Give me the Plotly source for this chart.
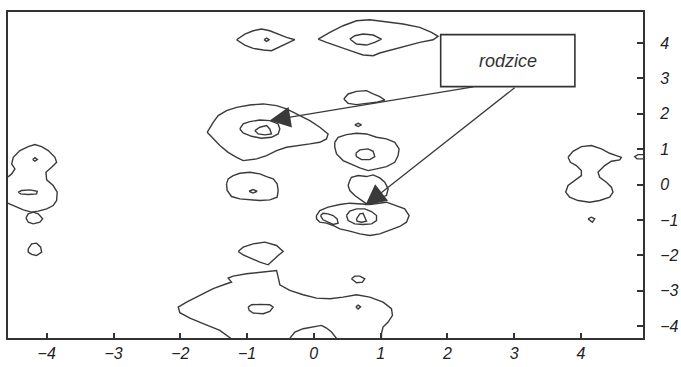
import plotly.graph_objects as go

# ---- axis settings (data units) ----
x_range = [-4.58, 4.93]
y_range = [-4.34, 4.88]
x_ticks = [-4, -3, -2, -1, 0, 1, 2, 3, 4]
y_ticks = [-4, -3, -2, -1, 0, 1, 2, 3, 4]

# ---- contour outlines (x, y) ----
lens_a_x = [-1.157, -1.033, -0.908, -0.783, -0.659, -0.534, -0.409, -0.284, -0.384, -0.509, -0.634, -0.758, -0.908, -1.033, -1.157]
lens_a_y = [4.096, 4.256, 4.350, 4.397, 4.350, 4.256, 4.162, 4.096, 4.002, 3.879, 3.785, 3.804, 3.851, 3.945, 4.096]
dot_a_x = [-0.745, -0.708, -0.670, -0.708, -0.745]
dot_a_y = [4.096, 4.140, 4.096, 4.050, 4.096]

blob_b_x = [0.065, 0.240, 0.439, 0.639, 0.838, 1.088, 1.337, 1.587, 1.762, 1.861, 1.786, 1.587, 1.388, 1.187, 0.988, 0.888, 0.738, 0.588, 0.389, 0.190, 0.065]
blob_b_y = [4.115, 4.303, 4.492, 4.633, 4.661, 4.605, 4.539, 4.444, 4.303, 4.190, 4.096, 4.021, 3.927, 3.833, 3.720, 3.644, 3.663, 3.757, 3.879, 4.021, 4.115]
inner_b_x = [0.539, 0.614, 0.738, 0.888, 1.013, 0.913, 0.789, 0.639, 0.539]
inner_b_y = [4.115, 4.209, 4.256, 4.228, 4.115, 4.021, 3.945, 3.973, 4.115]

blob_c_x = [0.449, 0.514, 0.639, 0.789, 0.888, 0.988, 1.063, 0.939, 0.789, 0.639, 0.514, 0.449]
blob_c_y = [2.421, 2.562, 2.636, 2.655, 2.562, 2.486, 2.392, 2.326, 2.297, 2.260, 2.297, 2.421]

blob_d_x = [-1.597, -1.507, -1.432, -1.307, -1.157, -0.958, -0.759, -0.558, -0.409, -0.210, -0.060, 0.090, 0.214, 0.190, 0.090, -0.060, -0.259, -0.409, -0.558, -0.708, -0.858, -1.058, -1.157, -1.283, -1.407, -1.507, -1.597]
blob_d_y = [1.478, 1.761, 1.949, 2.090, 2.184, 2.251, 2.280, 2.232, 2.138, 1.949, 1.808, 1.620, 1.432, 1.290, 1.196, 1.149, 1.102, 1.055, 0.960, 0.819, 0.725, 0.678, 0.771, 0.912, 1.102, 1.290, 1.478]
ring_d1_x = [-1.108, -1.058, -0.958, -0.808, -0.659, -0.534, -0.509, -0.534, -0.634, -0.783, -0.933, -1.058, -1.108]
ring_d1_y = [1.573, 1.714, 1.780, 1.827, 1.808, 1.714, 1.573, 1.432, 1.337, 1.309, 1.365, 1.460, 1.573]
ring_d2_x = [-0.883, -0.808, -0.708, -0.659, -0.634, -0.734, -0.834, -0.883]
ring_d2_y = [1.525, 1.620, 1.667, 1.573, 1.432, 1.404, 1.432, 1.525]

dot_e_x = [0.614, 0.664, 0.714, 0.664, 0.614]
dot_e_y = [1.686, 1.730, 1.686, 1.640, 1.686]

blob_f_x = [0.314, 0.364, 0.489, 0.639, 0.789, 0.939, 1.088, 1.213, 1.277, 1.262, 1.213, 1.088, 0.939, 0.813, 0.689, 0.564, 0.439, 0.340, 0.314, 0.314]
blob_f_y = [1.196, 1.337, 1.412, 1.450, 1.431, 1.337, 1.290, 1.196, 1.008, 0.819, 0.630, 0.508, 0.443, 0.395, 0.471, 0.584, 0.678, 0.866, 1.055, 1.196]
inner_f_x = [0.629, 0.689, 0.813, 0.888, 0.913, 0.838, 0.714, 0.639, 0.629]
inner_f_y = [0.885, 0.979, 1.008, 0.941, 0.791, 0.706, 0.706, 0.791, 0.885]

blob_g_x = [0.539, 0.564, 0.664, 0.789, 0.888, 0.988, 1.063, 1.113, 1.088, 0.939, 0.789, 0.714, 0.614, 0.539, 0.514, 0.539]
blob_g_y = [0.113, 0.207, 0.254, 0.226, 0.273, 0.188, 0.066, -0.122, -0.311, -0.405, -0.546, -0.452, -0.311, -0.169, -0.028, 0.113]

blob_h_x = [0.040, 0.090, 0.214, 0.389, 0.539, 0.689, 0.838, 1.088, 1.238, 1.362, 1.427, 1.388, 1.287, 1.138, 0.988, 0.838, 0.689, 0.539, 0.389, 0.289, 0.190, 0.090, 0.040, 0.040]
blob_h_y = [-0.876, -0.734, -0.640, -0.565, -0.527, -0.546, -0.565, -0.499, -0.593, -0.687, -0.876, -1.065, -1.186, -1.299, -1.394, -1.441, -1.394, -1.318, -1.252, -1.158, -1.092, -1.065, -0.970, -0.876]
ring_h1_x = [0.100, 0.139, 0.214, 0.289, 0.349, 0.364, 0.289, 0.214, 0.139, 0.100]
ring_h1_y = [-0.876, -0.810, -0.829, -0.876, -0.970, -1.092, -1.130, -1.065, -0.998, -0.876]
ring_h2_x = [0.489, 0.539, 0.639, 0.763, 0.864, 0.939, 0.939, 0.864, 0.738, 0.614, 0.514, 0.489]
ring_h2_y = [-0.876, -0.753, -0.687, -0.687, -0.763, -0.876, -1.017, -1.111, -1.130, -1.111, -1.017, -0.876]
ring_h3_x = [0.639, 0.689, 0.738, 0.763, 0.789, 0.714, 0.648, 0.639]
ring_h3_y = [-0.970, -0.829, -0.810, -0.923, -1.036, -1.065, -1.036, -0.970]

blob_i_x = [-1.307, -1.283, -1.208, -1.108, -0.958, -0.808, -0.708, -0.609, -0.549, -0.534, -0.549, -0.659, -0.808, -0.958, -1.108, -1.232, -1.298, -1.307]
blob_i_y = [0.019, 0.160, 0.254, 0.320, 0.348, 0.301, 0.226, 0.160, 0.019, -0.169, -0.358, -0.433, -0.452, -0.433, -0.405, -0.339, -0.169, 0.019]
dot_i_x = [-0.970, -0.910, -0.850, -0.910, -0.970]
dot_i_y = [-0.190, -0.140, -0.190, -0.240, -0.190]

blob_j_x = [-1.133, -1.058, -0.908, -0.734, -0.558, -0.459, -0.534, -0.609, -0.684, -0.808, -0.958, -1.058, -1.133]
blob_j_y = [-1.893, -1.770, -1.676, -1.629, -1.723, -1.893, -2.006, -2.147, -2.270, -2.194, -2.081, -1.987, -1.893]

blob_k_x = [0.564, 0.614, 0.689, 0.763, 0.729, 0.639, 0.564]
blob_k_y = [-2.665, -2.590, -2.590, -2.665, -2.759, -2.778, -2.665]

blob_l_x = [-1.208, -1.407, -1.657, -1.856, -2.006, -2.031, -1.906, -1.707, -1.507, -1.307, -1.232, -1.283, -1.208, -1.008, -0.808, -0.659, -0.558, -0.534, -0.509, -0.359, -0.160, 0.040, 0.240, 0.439, 0.639, 0.838, 1.037, 1.163, 1.178, 1.113, 1.037, 1.013, 1.013]
blob_l_y = [-4.400, -4.124, -3.935, -3.776, -3.625, -3.465, -3.324, -3.136, -2.946, -2.805, -2.759, -2.647, -2.590, -2.524, -2.477, -2.458, -2.429, -2.619, -2.834, -2.994, -3.116, -3.211, -3.229, -3.184, -3.116, -3.184, -3.324, -3.511, -3.701, -3.889, -4.031, -4.218, -4.400]
inner_l_x = [-0.983, -0.933, -0.808, -0.659, -0.609, -0.659, -0.758, -0.908, -0.968, -0.983]
inner_l_y = [-3.465, -3.399, -3.390, -3.399, -3.465, -3.588, -3.653, -3.636, -3.559, -3.465]
dot_l_x = [0.630, 0.664, 0.700, 0.664, 0.630]
dot_l_y = [-3.460, -3.410, -3.460, -3.520, -3.460]

blob_m_x = [-0.380, -0.284, -0.160, -0.010, 0.115, 0.190, 0.265, 0.360]
blob_m_y = [-4.400, -4.171, -4.077, -4.031, -3.983, -4.059, -4.171, -4.400]

blob_n_x = [-4.651, -4.525, -4.476, -4.525, -4.501, -4.401, -4.277, -4.177, -4.076, -3.977, -3.877, -3.852, -3.927, -4.012, -4.001, -3.903, -3.843, -3.852, -3.903, -4.001, -4.127, -4.226, -4.351, -4.476, -4.651]
blob_n_y = [0.113, 0.301, 0.443, 0.584, 0.771, 0.960, 1.073, 1.130, 1.073, 0.960, 0.771, 0.630, 0.489, 0.348, 0.132, -0.028, -0.216, -0.452, -0.593, -0.687, -0.753, -0.781, -0.716, -0.621, -0.471]
dot_n_x = [-4.210, -4.177, -4.140, -4.177, -4.210]
dot_n_y = [0.710, 0.760, 0.710, 0.660, 0.710]
ring_n_x = [-4.426, -4.376, -4.251, -4.142, -4.152, -4.277, -4.391, -4.426]
ring_n_y = [-0.216, -0.169, -0.151, -0.188, -0.264, -0.282, -0.264, -0.216]

blob_o_x = [-4.311, -4.277, -4.202, -4.127, -4.061, -4.102, -4.202, -4.277, -4.311]
blob_o_y = [-0.942, -0.829, -0.781, -0.829, -0.970, -1.065, -1.111, -1.065, -0.942]

blob_p_x = [-4.277, -4.226, -4.152, -4.091, -4.076, -4.152, -4.226, -4.277, -4.277]
blob_p_y = [-1.817, -1.676, -1.657, -1.770, -1.911, -2.006, -1.977, -1.911, -1.817]

blob_q_x = [3.807, 3.882, 4.007, 4.157, 4.307, 4.431, 4.531, 4.606, 4.581, 4.457, 4.356, 4.256, 4.281, 4.382, 4.457, 4.481, 4.431, 4.281, 4.132, 3.957, 3.832, 3.772, 3.807, 3.907, 4.007, 4.007, 3.932, 3.843, 3.807]
blob_q_y = [0.771, 0.941, 1.073, 1.102, 1.008, 0.885, 0.819, 0.771, 0.696, 0.659, 0.537, 0.348, 0.207, 0.066, -0.075, -0.216, -0.358, -0.452, -0.499, -0.452, -0.358, -0.216, -0.028, 0.113, 0.254, 0.395, 0.537, 0.630, 0.771]

blob_r_x = [4.107, 4.157, 4.207, 4.172, 4.107]
blob_r_y = [-0.970, -0.923, -0.970, -1.065, -0.970]

blob_s_x = [4.990, 4.855, 4.805, 4.840, 4.990]
blob_s_y = [0.847, 0.847, 0.791, 0.725, 0.725]

contours = [
    (lens_a_x, lens_a_y), (dot_a_x, dot_a_y), (blob_b_x, blob_b_y), (inner_b_x, inner_b_y),
    (blob_c_x, blob_c_y), (blob_d_x, blob_d_y), (ring_d1_x, ring_d1_y), (ring_d2_x, ring_d2_y),
    (dot_e_x, dot_e_y), (blob_f_x, blob_f_y), (inner_f_x, inner_f_y), (blob_g_x, blob_g_y),
    (blob_h_x, blob_h_y), (ring_h1_x, ring_h1_y), (ring_h2_x, ring_h2_y), (ring_h3_x, ring_h3_y),
    (blob_i_x, blob_i_y), (dot_i_x, dot_i_y), (blob_j_x, blob_j_y), (blob_k_x, blob_k_y),
    (blob_l_x, blob_l_y), (inner_l_x, inner_l_y), (dot_l_x, dot_l_y), (blob_m_x, blob_m_y),
    (blob_n_x, blob_n_y), (dot_n_x, dot_n_y), (ring_n_x, ring_n_y), (blob_o_x, blob_o_y),
    (blob_p_x, blob_p_y), (blob_q_x, blob_q_y), (blob_r_x, blob_r_y), (blob_s_x, blob_s_y),
]

# ---- annotation: label box and arrows ----
label_text = "rodzice"
box_x = [1.90, 3.91]
box_y = [2.77, 4.24]
arrow_tails = [(2.41, 2.77), (3.03, 2.77)]
arrow_heads = [(-0.66, 1.81), (0.77, -0.59)]

line_col = "#3a3a3a"
fig = go.Figure()
for cx, cy in contours:
    fig.add_trace(go.Scatter(x=cx, y=cy, mode="lines", hoverinfo="skip",
                             line=dict(color=line_col, width=1.4), showlegend=False))

fig.add_shape(type="rect", xref="x", yref="y", x0=box_x[0], x1=box_x[1], y0=box_y[0], y1=box_y[1],
              line=dict(color="#333333", width=1.6), fillcolor="white", layer="above")
fig.add_annotation(x=(box_x[0] + box_x[1]) / 2, y=(box_y[0] + box_y[1]) / 2, text=label_text,
                   showarrow=False, font=dict(family="Liberation Sans, Arial", size=18, color="#333333", style="italic"))
for (tx, ty), (hx, hy) in zip(arrow_tails, arrow_heads):
    fig.add_annotation(x=hx, y=hy, ax=tx, ay=ty, xref="x", yref="y", axref="x", ayref="y",
                       text="", showarrow=True, arrowhead=2, arrowsize=3.2, arrowwidth=1.3,
                       arrowcolor="#3a3a3a")

tick_font = dict(family="Liberation Sans, Arial", size=16, color="#222222", style="italic")
fig.update_layout(
    width=681, height=367,
    margin=dict(l=8, r=38, t=12, b=29, autoexpand=False),
    paper_bgcolor="white", plot_bgcolor="white",
    xaxis=dict(range=x_range, tickvals=x_ticks, ticks="inside", ticklen=5, tickwidth=1.5,
               tickcolor="#333333", showline=True, linewidth=2, linecolor="#333333", mirror=True,
               showgrid=False, zeroline=False, tickfont=tick_font, ticklabelstandoff=0,
               automargin=False),
    yaxis=dict(range=y_range, tickvals=y_ticks, side="right", ticks="inside", ticklen=6, tickwidth=1.5,
               tickcolor="#333333", showline=True, linewidth=2, linecolor="#333333", mirror=True,
               showgrid=False, zeroline=False, tickfont=tick_font, ticklabelstandoff=12,
               automargin=False),
)
fig.write_html("out.html")
